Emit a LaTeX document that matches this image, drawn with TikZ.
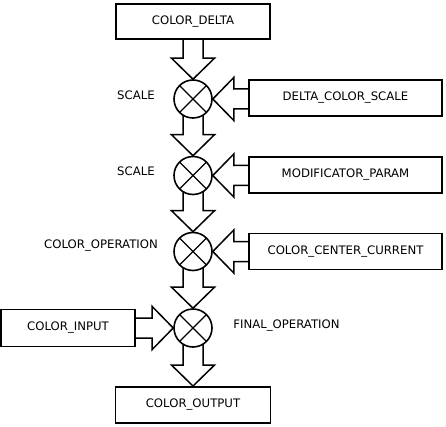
\documentclass[tikz,border=0pt]{standalone}
\usepackage{fontspec}
\setmainfont{DejaVu Sans}
\usetikzlibrary{calc,backgrounds}

\tikzset{
  box/.style={draw, line width=1.9pt, fill=white, inner sep=0pt,
    font=\fontsize{11.7}{13}\selectfont},
  mult/.style={draw, circle, line width=1.6pt, fill=white, minimum size=38pt,
    inner sep=0pt,
    path picture={\draw[line width=1.4pt]
      (path picture bounding box.north west) -- (path picture bounding box.south east)
      (path picture bounding box.north east) -- (path picture bounding box.south west);}},
  lab/.style={font=\fontsize{11.7}{13}\selectfont, inner sep=0pt},
  blockarrow/.style={draw, line width=1.5pt, fill=white, line join=miter}
}

\def \shaft {10}
\def \headw {21.5}
\def \headlen {21}

% block arrow pointing down, up to the top of #2
\newcommand{\blockdown}[2]{%
  \draw[blockarrow] ($(#1.center)+(-\shaft,0)$) -- ($(#2.north)+(-\shaft,-\headlen)$)
    -- ($(#2.north)+(-\headw,-\headlen)$) -- (#2.north)
    -- ($(#2.north)+(\headw,-\headlen)$) -- ($(#2.north)+(\shaft,-\headlen)$)
    -- ($(#1.center)+(\shaft,0)$);}
% block arrow pointing left, up to the right side of #2
\newcommand{\blockleft}[2]{%
  \draw[blockarrow] ($(#1.center)+(0,-\shaft)$) -- ($(#2.east)+(\headlen,-\shaft)$)
    -- ($(#2.east)+(\headlen,-\headw)$) -- (#2.east)
    -- ($(#2.east)+(\headlen,\headw)$) -- ($(#2.east)+(\headlen,\shaft)$)
    -- ($(#1.center)+(0,\shaft)$);}
% block arrow pointing right, up to the left side of #2
\newcommand{\blockright}[2]{%
  \draw[blockarrow] ($(#1.center)+(0,-\shaft)$) -- ($(#2.west)+(-\headlen,-\shaft)$)
    -- ($(#2.west)+(-\headlen,-\headw)$) -- (#2.west)
    -- ($(#2.west)+(-\headlen,\headw)$) -- ($(#2.west)+(-\headlen,\shaft)$)
    -- ($(#1.center)+(0,\shaft)$);}

\begin{document}
\begin{tikzpicture}[x=1pt, y=-1pt]
        \useasboundingbox (0,0) rectangle (446,427);

        \node[box, minimum width=154pt, minimum height=35pt] (delta) at (193,21.5) {COLOR\_DELTA};

        \node[mult] (m1) at (193,99) {};
        \node[mult] (m2) at (193,175.5) {};
        \node[mult] (m3) at (193,251.5) {};
        \node[mult] (m4) at (193,328) {};

        \node[box, minimum width=193pt, minimum height=36pt] (dscale) at (345.5,98) {DELTA\_COLOR\_SCALE};
        \node[box, minimum width=193pt, minimum height=36pt] (modif) at (345.5,175) {MODIFICATOR\_PARAM};
        \node[box, minimum width=193pt, minimum height=36pt] (center) at (345.5,251.5) {COLOR\_CENTER\_CURRENT};
        \node[box, minimum width=134pt, minimum height=37pt] (input) at (68,328) {COLOR\_INPUT};
        \node[box, minimum width=155pt, minimum height=36pt] (output) at (193,405) {COLOR\_OUTPUT};

        \node[lab] (scale1) at (136,95.5) {SCALE};
        \node[lab] (scale2) at (136,171.5) {SCALE};
        \node[lab] (oper) at (101,246) {COLOR\_OPERATION};
        \node[lab] (final) at (286.5,326) {FINAL\_OPERATION};

        \begin{scope}[on background layer]
          \blockdown{delta}{m1}
          \blockdown{m1}{m2}
          \blockdown{m2}{m3}
          \blockdown{m3}{m4}
          \blockdown{m4}{output}
          \blockleft{dscale}{m1}
          \blockleft{modif}{m2}
          \blockleft{center}{m3}
          \blockright{input}{m4}
        \end{scope}
      \end{tikzpicture}
\end{document}
